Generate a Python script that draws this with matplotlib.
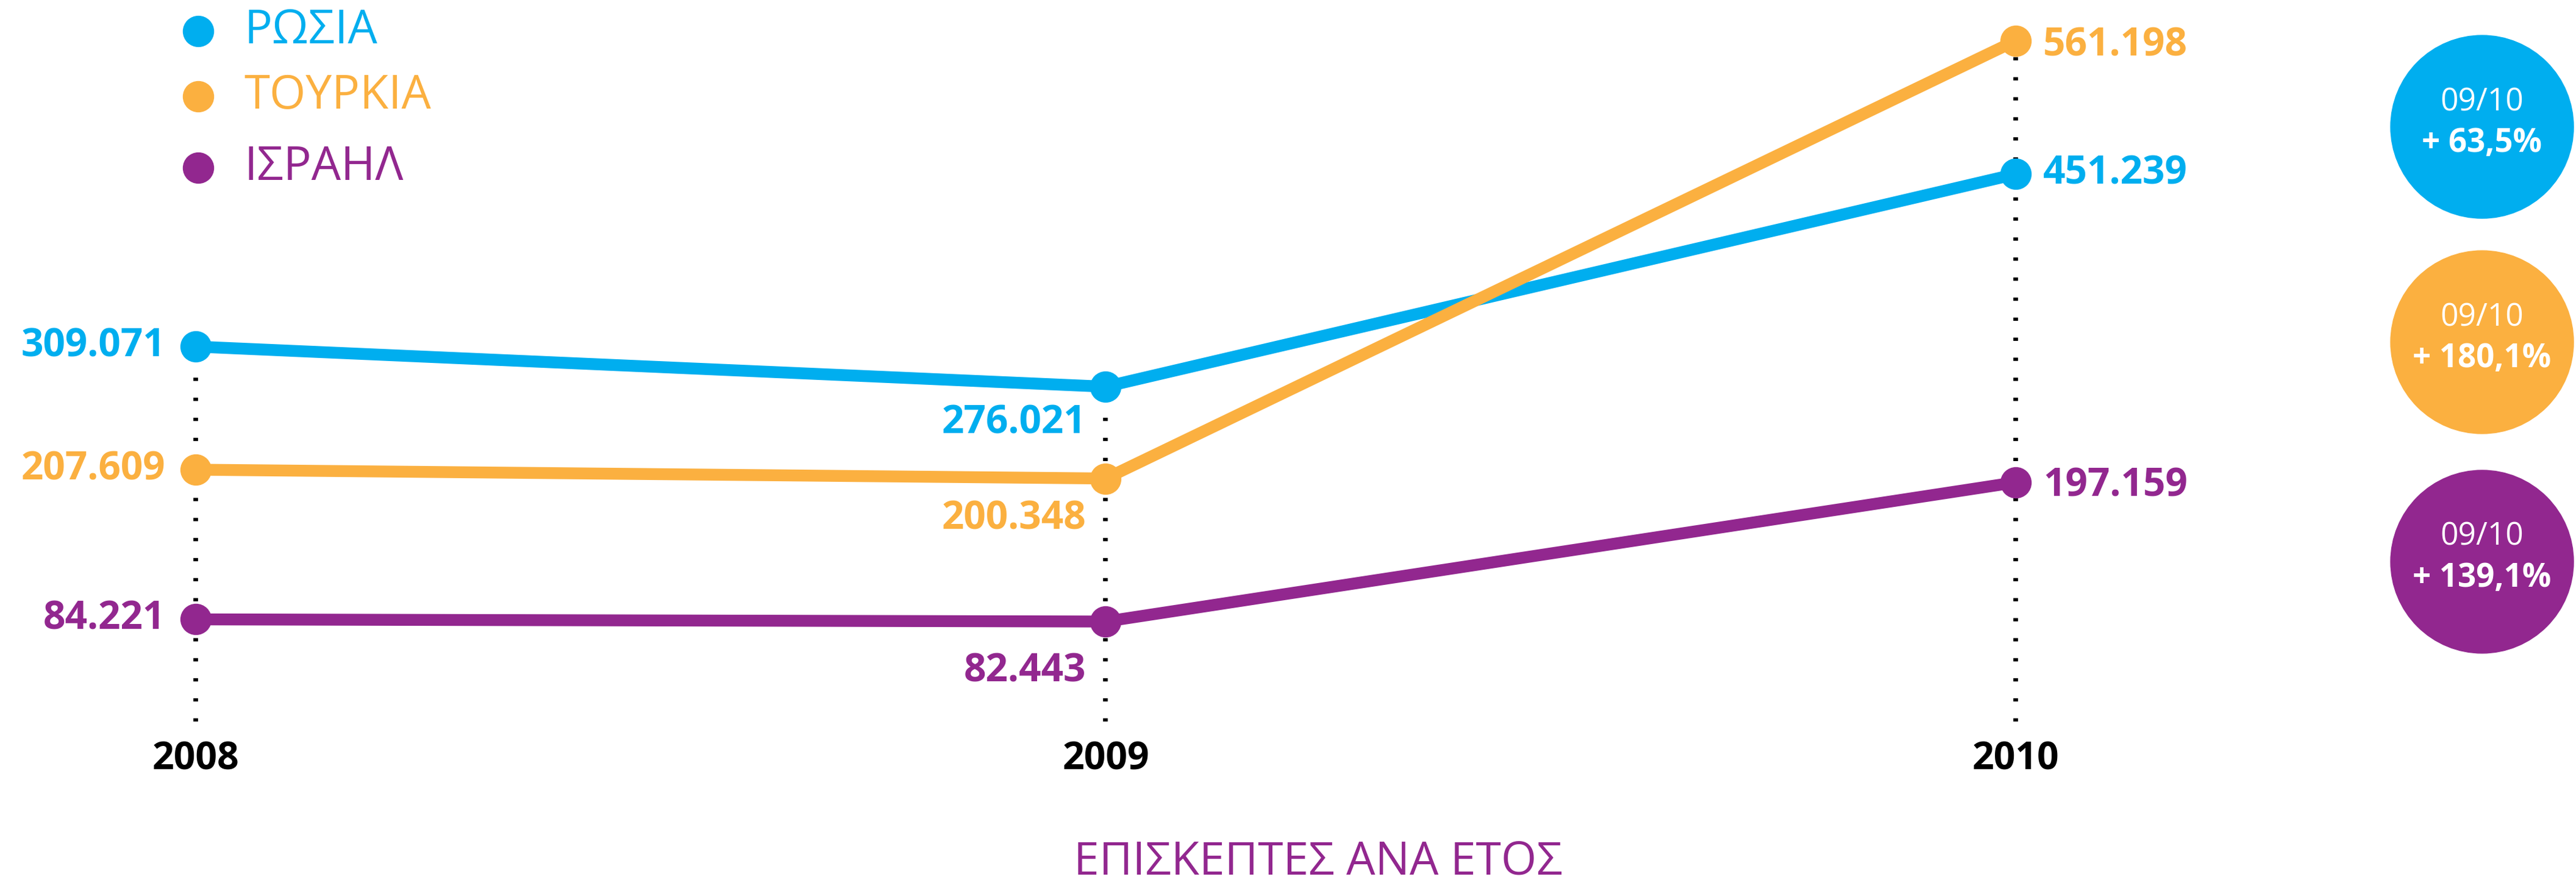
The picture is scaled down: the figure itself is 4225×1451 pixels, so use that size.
import matplotlib
matplotlib.use("Agg")
import matplotlib.pyplot as plt
from matplotlib import font_manager
from matplotlib.patches import Circle

# data
years = [2008, 2009, 2010]
countries = ["ΡΩΣΙΑ", "ΤΟΥΡΚΙΑ", "ΙΣΡΑΗΛ"]
russia = [309071, 276021, 451239]
turkey = [207609, 200348, 561198]
israel = [84221, 82443, 197159]
change_label = "09/10"
x_title = "ΕΠΙΣΚΕΠΤΕΣ ΑΝΑ ΕΤΟΣ"

series = [russia, turkey, israel]
colors = ["#00AEEF", "#FBB040", "#92278F"]

W, H = 4225, 1451
available = {f.name for f in font_manager.fontManager.ttflist}
narrow = "Open Sans"
for name in ["Liberation Sans Narrow", "DejaVu Sans Condensed"]:
    if name in available:
        narrow = name
        break
plt.rcParams["font.family"] = ["Open Sans", "DejaVu Sans"]

fig = plt.figure(figsize=(W / 100, H / 100), dpi=100)
ax = fig.add_axes([0, 0, 1, 1])
# pixel mapping: 2008 at x=321, one year = 1492.5 px; value 0 at y=1183 px from top
ax.set_xlim(2008 - 321 / 1492.5, 2008 + (W - 321) / 1492.5)
ax.set_ylim((1183 - H) / 0.001989, 1183 / 0.001989)
ax.axis("off")


def fmt(v):
    return f"{v:,}".replace(",", ".")


# dotted drop lines
for i, yr in enumerate(years):
    top = max(s[i] for s in series)
    ax.plot([yr, yr], [0, top], color="black", lw=5.5, dashes=(0.7, 3.6),
            solid_capstyle="butt", dash_capstyle="butt", zorder=1)

off09 = [-60, -66, -82]
off10 = [0, -8, -6]
for k, (s, c) in enumerate(zip(series, colors)):
    ax.plot(years, s, color=c, lw=14, marker="o", ms=36, zorder=3)
    ax.annotate(fmt(s[0]), (years[0], s[0]), xytext=(-50, 0), textcoords="offset pixels",
                ha="right", va="center", fontsize=46, fontweight="bold", color=c)
    ax.annotate(fmt(s[1]), (years[1], s[1]), xytext=(-32, off09[k]), textcoords="offset pixels",
                ha="right", va="center", fontsize=46, fontweight="bold", color=c)
    ax.annotate(fmt(s[2]), (years[2], s[2]), xytext=(45, off10[k]), textcoords="offset pixels",
                ha="left", va="center", fontsize=46, fontweight="bold", color=c)

for yr in years:
    ax.text(yr, (1183 - 1245) / 0.001989, str(yr), ha="center", va="center",
            fontsize=45, fontweight="bold", color="black")

# legend
for k, (name, c) in enumerate(zip(countries, colors)):
    ypx = [51, 158, 275][k]
    fig.lines.append(plt.Line2D([325 / W], [1 - ypx / H], marker="o", ms=36, color=c,
                                transform=fig.transFigure))
    fig.text(400 / W, 1 - ypx / H, name, ha="left", va="center", fontsize=55, color=c)

# growth circles
for k, (s, c) in enumerate(zip(series, colors)):
    cy = [208, 561, 921][k]
    fig.patches.append(Circle((4071 / 100, (H - cy) / 100), 1.5, color=c,
                              transform=fig.dpi_scale_trans))
    pct = (s[2] / s[1] - 1) * 100
    txt = f"+ {pct:.1f}%".replace(".", ",")
    fig.text(4071 / W, 1 - (cy - 27) / H, change_label, ha="center", va="baseline",
             fontsize=37, color="white")
    fig.text(4071 / W, 1 - (cy + 41) / H, txt, ha="center", va="baseline",
             fontsize=38, fontweight="bold", color="white")

fig.text(2162 / W, 1 - 1434 / H, x_title, ha="center", va="baseline",
         fontsize=54, color="#92278F", family=[narrow, "DejaVu Sans"])

fig.savefig("out.png", dpi=100)
